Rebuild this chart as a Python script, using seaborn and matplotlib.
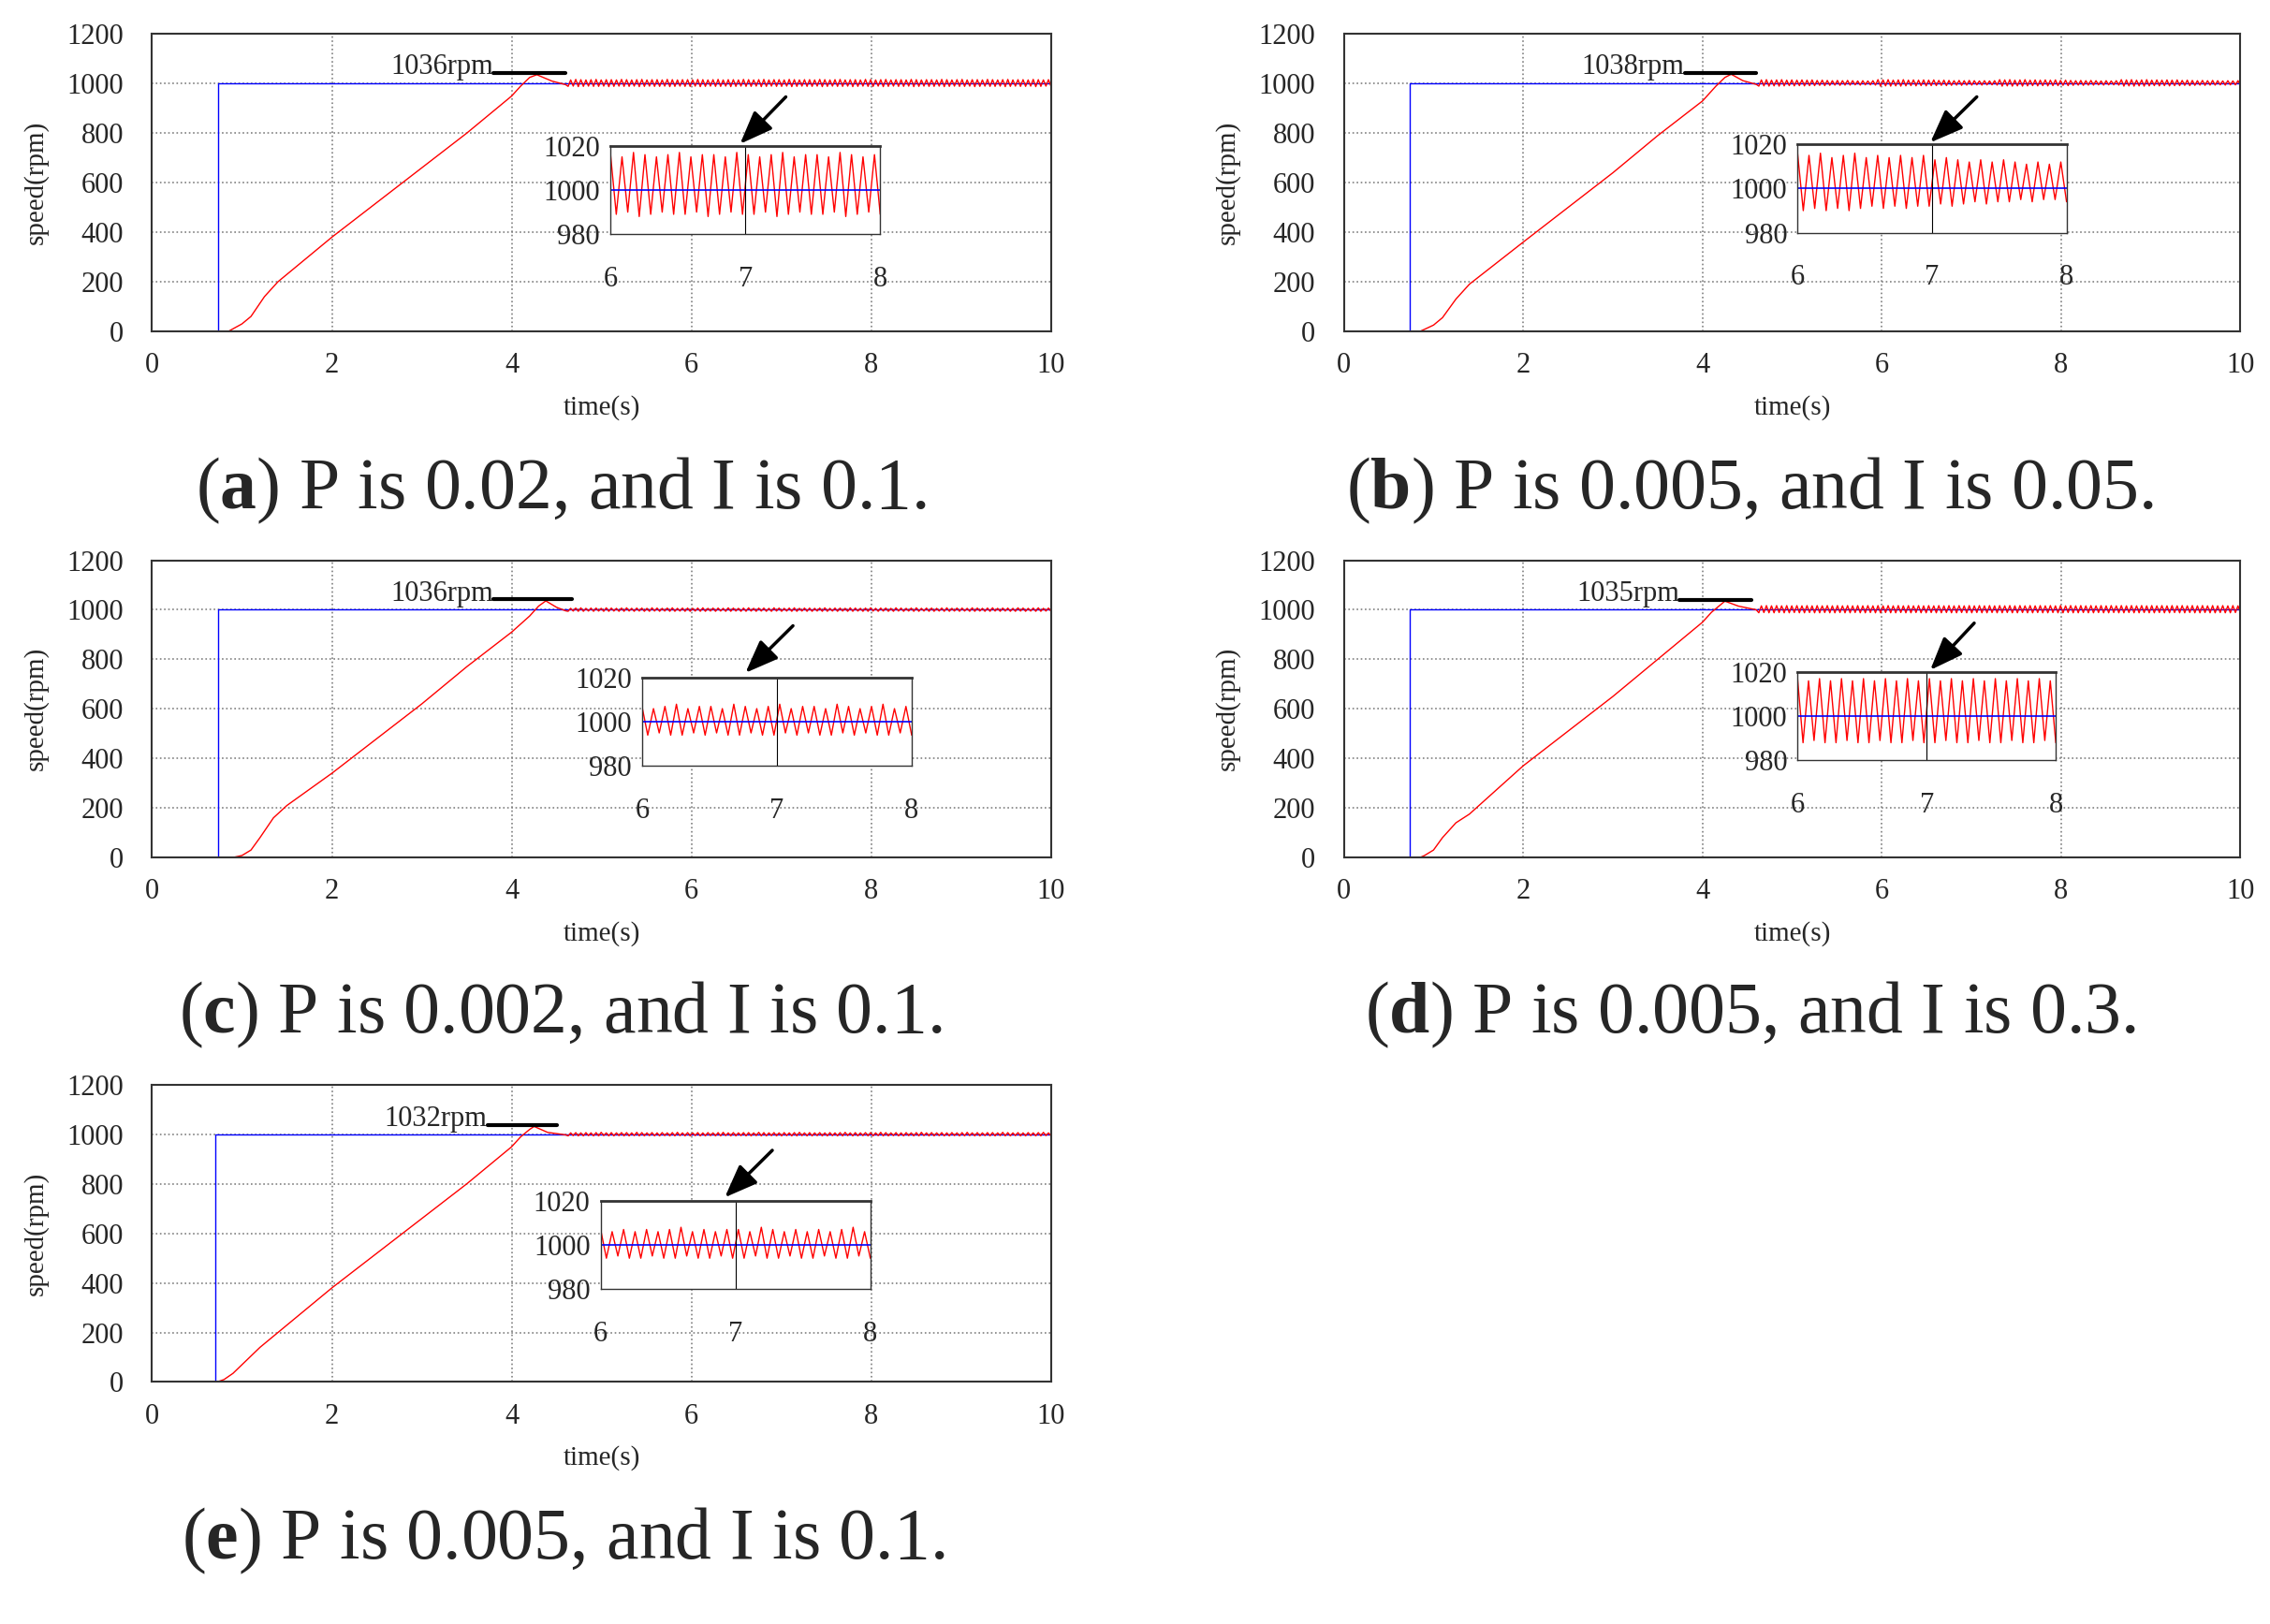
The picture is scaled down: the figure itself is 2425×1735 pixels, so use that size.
import numpy as np
import pandas as pd
import matplotlib.pyplot as plt
import seaborn as sns

sns.set_theme(style="white", font="Liberation Serif")
plt.rcParams.update({"mathtext.fontset": "custom", "mathtext.rm": "Liberation Serif",
                     "mathtext.bf": "Liberation Serif:bold"})

# ---- data ----
labels = ["a", "b", "c", "d", "e"]
captions = ["P is 0.02, and I is 0.1.", "P is 0.005, and I is 0.05.", "P is 0.002, and I is 0.1.",
            "P is 0.005, and I is 0.3.", "P is 0.005, and I is 0.1."]
peaks = [1036, 1038, 1036, 1035, 1032]
step_t = [0.73, 0.73, 0.73, 0.73, 0.70]

ramp_t = {
    "a": [0, 0.85, 0.9, 1.0, 1.1, 1.25, 1.4, 2.0, 2.5, 3.0, 3.5, 4.0, 4.1, 4.2, 4.28, 4.45, 4.6],
    "b": [0, 0.85, 0.9, 1.0, 1.1, 1.25, 1.4, 2.0, 2.5, 3.0, 3.5, 4.0, 4.15, 4.25, 4.32, 4.45, 4.6],
    "c": [0, 0.9, 1.0, 1.1, 1.2, 1.35, 1.5, 2.0, 2.5, 3.0, 3.5, 4.0, 4.2, 4.3, 4.38, 4.5, 4.6],
    "d": [0, 0.85, 0.9, 1.0, 1.1, 1.25, 1.4, 2.0, 2.5, 3.0, 3.5, 4.0, 4.1, 4.2, 4.25, 4.4, 4.6],
    "e": [0, 0.72, 0.8, 0.9, 1.0, 1.2, 1.4, 2.0, 2.5, 3.0, 3.5, 4.0, 4.1, 4.2, 4.25, 4.4, 4.6],
}
ramp_v = {
    "a": [0, 0, 10, 30, 60, 140, 200, 380, 520, 660, 800, 950, 990, 1025, 1036, 1010, 996],
    "b": [0, 0, 8, 25, 55, 130, 190, 360, 500, 640, 790, 930, 990, 1025, 1038, 1012, 997],
    "c": [0, 0, 8, 30, 80, 160, 210, 340, 480, 620, 770, 910, 975, 1015, 1036, 1010, 996],
    "d": [0, 0, 8, 30, 80, 140, 175, 370, 510, 650, 800, 950, 990, 1020, 1035, 1015, 1000],
    "e": [0, 0, 10, 35, 70, 140, 200, 380, 520, 660, 800, 950, 990, 1020, 1032, 1008, 998],
}

osc = {
    "a": [1016, 989, 1015, 990, 1017, 988, 1016, 989, 1015, 990, 1016, 989, 1017, 989, 1015, 990,
          1016, 988, 1016, 989, 1015, 990, 1017, 989, 1016, 989, 1015, 990, 1016, 988, 1017, 989,
          1015, 990, 1016, 989, 1016, 989, 1015, 990, 1017, 988, 1016, 989, 1015, 990, 1016, 989],
    "b": [1016, 990, 1015, 991, 1016, 990, 1014, 991, 1015, 990, 1016, 991, 1014, 992, 1015, 991,
          1014, 992, 1015, 991, 1014, 992, 1015, 992, 1013, 993, 1014, 992, 1013, 993, 1012, 994,
          1013, 993, 1012, 994, 1013, 994, 1012, 995, 1011, 994, 1012, 995, 1011, 995, 1012, 994],
    "c": [1007, 994, 1006, 995, 1007, 994, 1008, 994, 1006, 995, 1007, 994, 1007, 995, 1006, 994,
          1008, 994, 1007, 995, 1006, 994, 1007, 994, 1008, 995, 1006, 994, 1007, 995, 1007, 994,
          1006, 994, 1008, 995, 1007, 994, 1006, 995, 1007, 994, 1008, 994, 1006, 995, 1007, 994],
    "d": [1017, 988, 1016, 989, 1017, 988, 1016, 988, 1017, 989, 1016, 988, 1017, 988, 1016, 989,
          1017, 988, 1016, 988, 1017, 989, 1016, 988, 1017, 988, 1016, 989, 1017, 988, 1016, 988,
          1017, 989, 1016, 988, 1017, 988, 1016, 989, 1017, 988, 1016, 988, 1017, 989, 1016, 988],
    "e": [1007, 994, 1006, 995, 1007, 994, 1006, 994, 1007, 995, 1006, 994, 1007, 994, 1008, 995,
          1006, 994, 1007, 994, 1006, 995, 1007, 994, 1007, 994, 1006, 995, 1008, 994, 1007, 994,
          1006, 995, 1007, 994, 1006, 994, 1007, 995, 1006, 994, 1007, 994, 1008, 995, 1006, 994],
}

# ---- layout ----
axes_pos = [[0.067, 0.796, 0.396, 0.183], [0.592, 0.796, 0.395, 0.183],
            [0.067, 0.472, 0.396, 0.183], [0.592, 0.472, 0.395, 0.183],
            [0.067, 0.149, 0.396, 0.183]]
inset_pos = [[5.10, 392, 3.0, 357], [5.06, 398, 3.0, 357], [5.45, 369, 3.0, 357],
             [5.06, 392, 2.88, 357], [4.99, 375, 3.0, 357]]
arrows = [((7.07, 954), (6.52, 749)), ((7.08, 954), (6.52, 755)), ((7.15, 943), (6.58, 738)),
          ((7.05, 954), (6.52, 749)), ((6.92, 943), (6.35, 738))]
peak_line = [(3.8, 4.6), (3.8, 4.6), (3.8, 4.67), (3.74, 4.55), (3.73, 4.5)]
cap_pos = [(0.247, 0.698), (0.771, 0.698), (0.247, 0.375), (0.771, 0.375), (0.248, 0.051)]

fig = plt.figure(figsize=(24.25, 17.35), dpi=100)
fs = 22

for i, k in enumerate(labels):
    ax = fig.add_axes(axes_pos[i])
    blue = pd.DataFrame({"t": [0, step_t[i], step_t[i], 10], "v": [0, 0, 1000, 1000]})
    steady_t = np.linspace(4.6, 10, 4 * len(osc[k]))
    red = pd.DataFrame({"t": list(ramp_t[k]) + list(steady_t[1:]),
                        "v": list(ramp_v[k]) + (osc[k] * 4)[1:]})
    sns.lineplot(data=blue, x="t", y="v", ax=ax, color="blue", lw=1, sort=False, estimator=None)
    sns.lineplot(data=red, x="t", y="v", ax=ax, color="red", lw=1, sort=False, estimator=None)
    ax.set_xlim(0, 10)
    ax.set_ylim(0, 1200)
    ax.set_xticks(range(0, 11, 2))
    ax.set_yticks(range(0, 1201, 200))
    ax.grid(True, color="gray", ls=":", lw=1.2)
    ax.tick_params(direction="in", length=6, width=1.5, labelsize=fs, pad=16)
    ax.tick_params(axis="y", pad=22)
    for s in ax.spines.values():
        s.set_linewidth(1.5)
        s.set_color("#333333")
    ax.set_xlabel("time(s)", fontsize=21, labelpad=12)
    ax.set_ylabel("speed(rpm)", fontsize=21, labelpad=14)

    x0, x1 = peak_line[i]
    ax.plot([x0, x1], [peaks[i] + 6, peaks[i] + 6], color="black", lw=3)
    ax.text(x0, peaks[i] - 25, f"{peaks[i]}rpm", ha="right", va="bottom", fontsize=fs)
    ax.annotate("", xy=arrows[i][1], xytext=arrows[i][0],
                arrowprops=dict(arrowstyle="-|>,head_length=1.8,head_width=0.7", color="black", lw=2.5))

    ins = ax.inset_axes(inset_pos[i], transform=ax.transData)
    ot = np.linspace(6, 8, len(osc[k]))
    sns.lineplot(x=ot, y=osc[k], ax=ins, color="red", lw=1, sort=False, estimator=None)
    ins.axhline(1000, color="blue", lw=1.2)
    ins.axvline(7, color="black", lw=0.8)
    ins.set_xlim(6, 8)
    ins.set_ylim(980, 1020)
    ins.set_xticks([6, 7, 8])
    ins.set_yticks([980, 1000, 1020])
    ins.tick_params(length=0, labelsize=fs, pad=24)
    ins.tick_params(axis="y", pad=8)
    for s in ins.spines.values():
        s.set_linewidth(1)
        s.set_color("#333333")
    ins.spines["top"].set_linewidth(2)

    fig.text(cap_pos[i][0], cap_pos[i][1], rf"($\mathbf{{{k}}}$) {captions[i]}",
             ha="center", va="center", fontsize=56)

fig.savefig("out.png", dpi=100)
